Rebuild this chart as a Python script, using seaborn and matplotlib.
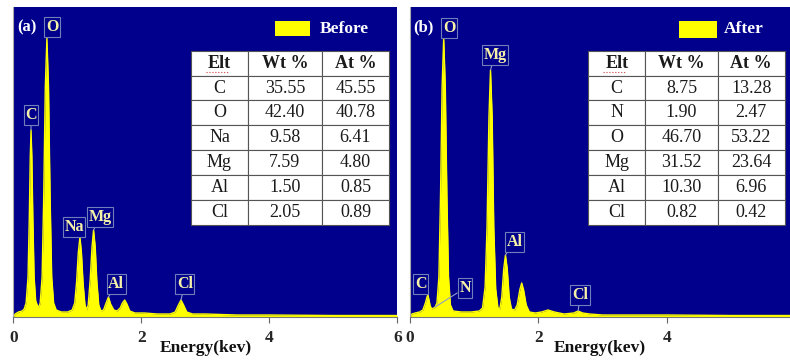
import numpy as np
import pandas as pd
import matplotlib.pyplot as plt
from matplotlib.patches import Rectangle
import seaborn as sns

sns.set_theme(style="ticks")
plt.rcParams["font.family"] = ["Liberation Serif", "DejaVu Serif"]

# spectrum (keV, counts)
before_kev = [0.00, 0.03, 0.08, 0.14, 0.17, 0.20, 0.23, 0.25, 0.265, 0.277, 0.29, 0.305,
              0.325, 0.35, 0.38, 0.40, 0.42, 0.45, 0.475, 0.50, 0.525, 0.55, 0.575, 0.60,
              0.63, 0.67, 0.75, 0.85, 0.92, 0.96, 0.99, 1.015, 1.041, 1.065, 1.09, 1.12,
              1.145, 1.17, 1.20, 1.23, 1.254, 1.28, 1.305, 1.335, 1.37, 1.41, 1.45, 1.487,
              1.52, 1.57, 1.62, 1.67, 1.705, 1.74, 1.775, 1.82, 1.90, 2.05, 2.25, 2.45,
              2.53, 2.58, 2.62, 2.66, 2.71, 2.80, 3.00, 3.50, 4.00, 5.00, 6.00]
before_cts = [0, 3, 5, 6, 8, 14, 40, 100, 160, 187, 160, 100,
              40, 16, 11, 10, 14, 40, 120, 230, 279, 230, 120, 40,
              14, 7, 5, 5, 7, 14, 36, 64, 80, 64, 34, 12,
              7, 12, 36, 70, 87, 70, 36, 12, 6, 7, 14, 20,
              13, 7, 6, 9, 14, 17, 13, 6, 4, 4, 3, 3,
              5, 12, 17, 12, 5, 3, 3, 2, 2, 1.5, 1.5]

after_kev = [0.00, 0.03, 0.08, 0.15, 0.20, 0.24, 0.265, 0.277, 0.29, 0.315, 0.34, 0.37,
             0.392, 0.42, 0.45, 0.475, 0.50, 0.525, 0.55, 0.575, 0.60, 0.63, 0.67, 0.80,
             0.95, 1.08, 1.13, 1.17, 1.20, 1.23, 1.254, 1.28, 1.305, 1.335, 1.37, 1.40,
             1.43, 1.46, 1.487, 1.515, 1.545, 1.58, 1.63, 1.67, 1.71, 1.74, 1.77, 1.81,
             1.86, 1.95, 2.05, 2.15, 2.25, 2.40, 2.55, 2.62, 2.69, 2.80, 3.00, 4.00,
             5.00, 5.92]
after_cts = [0, 3, 4, 5, 7, 14, 20, 22, 19, 11, 8, 9,
             10, 14, 40, 120, 230, 279, 230, 120, 40, 12, 6, 5,
             5, 6, 9, 30, 90, 200, 247, 200, 90, 28, 9, 8,
             20, 48, 62, 48, 20, 8, 7, 12, 27, 34, 27, 12,
             5, 4, 5, 7, 5, 3, 4, 6, 4, 3, 2, 2,
             1.5, 1.5]

# peak labels: element, peak energy, peak counts
before_peaks = [("O", 0.525, 279), ("C", 0.277, 187), ("Na", 1.041, 80),
                ("Mg", 1.254, 87), ("Al", 1.487, 20), ("Cl", 2.62, 17)]
after_peaks = [("O", 0.525, 279), ("Mg", 1.254, 247), ("C", 0.277, 22),
               ("N", 0.392, 10), ("Al", 1.487, 62), ("Cl", 2.62, 6)]

# quantification tables
before_elt = ["C", "O", "Na", "Mg", "Al", "Cl"]
before_wt = ["35.55", "42.40", "9.58", "7.59", "1.50", "2.05"]
before_at = ["45.55", "40.78", "6.41", "4.80", "0.85", "0.89"]
after_elt = ["C", "N", "O", "Mg", "Al", "Cl"]
after_wt = ["8.75", "1.90", "46.70", "31.52", "10.30", "0.82"]
after_at = ["13.28", "2.47", "53.22", "23.64", "6.96", "0.42"]

NAVY = "#00008C"
YELLOW = "#FFFF00"
LABEL_TXT = "#F4F0A8"
LABEL_EDGE = "#6F7FB8"

# label box positions (data coords) for each panel
before_lbl_pos = [(0.605, 290), (0.277, 202), (0.95, 90), (1.36, 100), (1.61, 33), (2.68, 33)]
after_lbl_pos = [(0.607, 289), (1.324, 262), (0.164, 33), (0.857, 29), (1.628, 75), (2.648, 22)]


def draw_panel(ax, kev, cts, xmax, peaks, lbl_pos, tag, legend_txt, elt, wt, at, rect, txt_x, tbl_x):
    df = pd.DataFrame({"energy": kev, "counts": cts})
    ax.set_facecolor(NAVY)
    ax.fill_between(df["energy"], df["counts"], color=YELLOW, lw=0)
    sns.lineplot(data=df, x="energy", y="counts", ax=ax, color=YELLOW, lw=1.0,
                 estimator=None, sort=False)
    ax.set_xlim(0, xmax)
    ax.set_ylim(0, 310)
    ax.set_yticks([])
    ticks = [t for t in [0, 2, 4, 6] if t <= xmax]
    ax.set_xticks(ticks)
    ax.set_xticklabels([str(t) for t in ticks], fontweight="bold", fontsize=12.5)
    ax.tick_params(axis="x", direction="out", length=4, width=0.8, color="#666666", pad=5)
    ax.set_xlabel("")
    ax.set_ylabel("")
    for s in ["top", "right"]:
        ax.spines[s].set_visible(False)
    ax.spines["bottom"].set_color("#777777")
    ax.spines["left"].set_color("#AAAAAA")
    ax.spines["bottom"].set_linewidth(0.8)
    ax.spines["left"].set_linewidth(0.8)

    for (name, e, c), (tx, ty) in zip(peaks, lbl_pos):
        ax.annotate(name, xy=(e, c), xytext=(tx, ty), ha="center", va="center",
                    fontsize=11.5, fontweight="bold", color=LABEL_TXT,
                    bbox=dict(boxstyle="square,pad=0.1", fc=NAVY, ec=LABEL_EDGE, lw=0.8),
                    arrowprops=dict(arrowstyle="-", color="#8E9CCB", lw=0.8,
                                    shrinkA=0, shrinkB=0))

    ax.text(0.036, 0.935, tag, transform=ax.transAxes, ha="center", va="center",
            color="white", fontsize=12, fontweight="bold")
    ax.add_patch(Rectangle((rect[0], rect[1]), rect[2], rect[3], transform=ax.transAxes,
                           fc=YELLOW, ec="none"))
    ax.text(txt_x, 0.93, legend_txt, transform=ax.transAxes, ha="left", va="center",
            color="white", fontsize=12.5, fontweight="bold")

    cells = [[a, b, c] for a, b, c in zip(elt, wt, at)]
    tbl = ax.table(cellText=cells, colLabels=["Elt", "Wt %", "At %"],
                   cellLoc="center", colWidths=[57.6, 73.4, 67.6],
                   bbox=[tbl_x, 0.297, 0.517, 0.562])
    tbl.auto_set_font_size(False)
    for (r, cidx), cell in tbl.get_celld().items():
        cell.set_facecolor("white")
        cell.set_edgecolor("#555555")
        cell.set_linewidth(0.8)
        cell.get_text().set_fontsize(13)
        cell.get_text().set_color("#1A1A1A")
        if r == 0:
            cell.get_text().set_fontweight("bold")
    # spell-check squiggle under "Elt"
    ax.plot([tbl_x + 0.04, tbl_x + 0.1], [0.79, 0.79], transform=ax.transAxes,
            color="#D04040", lw=0.8, ls=":")

    ax.text(0.5, -0.1, "Energy(kev)", transform=ax.transAxes, ha="center", va="center",
            fontsize=12.5, fontweight="bold", color="#111111")


fig = plt.figure(figsize=(7.9, 3.6), dpi=100)
ax1 = fig.add_axes([13.3 / 790, 43 / 360, 384 / 790, 310 / 360])
ax2 = fig.add_axes([410 / 790, 43 / 360, 380 / 790, 310 / 360])

draw_panel(ax1, before_kev, before_cts, 6.0, before_peaks, before_lbl_pos, "(a)", "Before",
           before_elt, before_wt, before_at, (0.681, 0.906, 0.091, 0.048), 0.798, 0.462)
draw_panel(ax2, after_kev, after_cts, 5.92, after_peaks, after_lbl_pos, "(b)", "After",
           after_elt, after_wt, after_at, (0.708, 0.90, 0.099, 0.055), 0.826, 0.469)

fig.savefig("out.png", dpi=100)
